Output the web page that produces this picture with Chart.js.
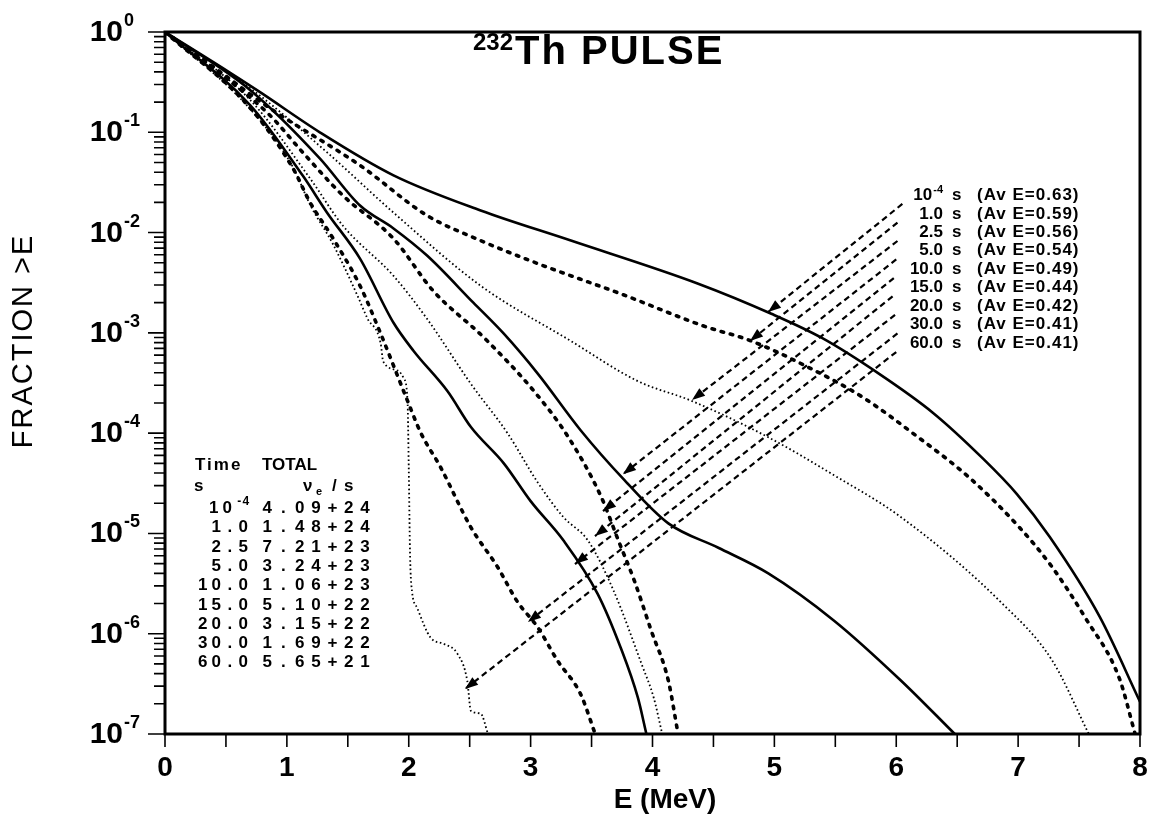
<!DOCTYPE html>
<html lang="en">
<head>
<meta charset="UTF-8">
<title>232Th pulse - fraction of antineutrinos above E</title>
<script src="https://cdn.jsdelivr.net/npm/chart.js"></script>
<style>
  html, body { margin: 0; padding: 0; background: #fff; }
  canvas { display: block; }
</style>
</head>
<body>
<canvas id="chart" width="1157" height="822"></canvas>
<script>
// fraction of the spectrum above E, one curve per cooling time
const e_1e4 = [0, 0.5, 0.78, 1.27, 1.875, 2.59, 3.33, 4.375, 4.975, 5.39, 5.86, 6.30, 6.71, 6.99, 7.26, 7.67, 8.0];
const f_1e4 = [1, 0.417, 0.251, 0.1, 0.0372, 0.0166, 0.00832, 0.00309, 0.00155, 8.9e-4, 3.9e-4, 1.6e-4, 5.6e-5, 2.47e-5, 9.2e-6, 1.47e-6, 2.1e-7];

const e_1 = [0, 0.41, 0.86, 1.60, 2.15, 2.59, 3.06, 3.74, 4.42, 4.81, 5.30, 5.72, 6.18, 6.60, 7.01, 7.28, 7.55, 7.83, 7.96];
const f_1 = [1, 0.437, 0.174, 0.0468, 0.0148, 0.00832, 0.0049, 0.00245, 0.00117, 8.3e-4, 4.4e-4, 2.3e-4, 9.1e-5, 3.6e-5, 1.15e-5, 4.6e-6, 1.45e-6, 3.6e-7, 1.0e-7];

const e_2_5 = [0, 0.70, 1.33, 1.875, 2.59, 3.33, 3.88, 4.32, 4.95, 5.49, 6.04, 6.87, 7.28, 7.58];
const f_2_5 = [1, 0.275, 0.063, 0.0158, 0.00295, 8.3e-4, 3.3e-4, 2.1e-4, 9.1e-5, 3.8e-5, 1.45e-5, 2.0e-6, 5.4e-7, 1.0e-7];

const e_5 = [0, 0.70, 1.27, 1.60, 1.875, 2.15, 2.53, 2.78, 3.06, 3.41, 3.77, 4.13, 4.54, 4.95, 5.49, 6.04, 6.48];
const f_5 = [1, 0.263, 0.055, 0.0186, 0.011, 0.0059, 0.002, 9.8e-4, 3.9e-4, 1.07e-4, 3.4e-5, 1.26e-5, 7.2e-6, 4.0e-6, 1.35e-6, 3.4e-7, 1.0e-7];

const e_10 = [0, 0.5, 0.86, 1.13, 1.46, 1.875, 2.20, 2.62, 3.03, 3.31, 3.58, 3.72, 3.85, 3.99, 4.13, 4.21];
const f_10 = [1, 0.347, 0.148, 0.063, 0.0234, 0.0087, 0.00263, 8.9e-4, 2.6e-4, 9.1e-5, 2.3e-5, 8.5e-6, 3.4e-6, 1.07e-6, 3.4e-7, 1.0e-7];

const e_15 = [0, 0.70, 1.19, 1.46, 1.875, 2.15, 2.51, 2.81, 3.06, 3.27, 3.47, 3.68, 3.91, 4.01, 4.08];
const f_15 = [1, 0.209, 0.0347, 0.0117, 0.0037, 0.00138, 3.1e-4, 1.0e-4, 3.2e-5, 1.45e-5, 8.5e-6, 2.7e-6, 5.0e-7, 2.3e-7, 1.0e-7];

const e_20 = [0, 0.70, 1.13, 1.33, 1.60, 1.875, 2.04, 2.32, 2.51, 2.78, 3.00, 3.27, 3.55, 3.74, 3.88, 3.95];
const f_20 = [1, 0.186, 0.037, 0.0158, 0.0055, 0.00126, 6.6e-4, 2.6e-4, 1.15e-4, 5.0e-5, 2.1e-5, 8.5e-6, 2.5e-6, 7.2e-7, 2.3e-7, 1.0e-7];

const e_30 = [0, 0.70, 1.05, 1.19, 1.38, 1.60, 1.77, 1.99, 2.10, 2.26, 2.51, 2.73, 2.89, 3.06, 3.22, 3.41, 3.53];
const f_30 = [1, 0.174, 0.0437, 0.02, 0.0087, 0.00295, 9.8e-4, 2.1e-4, 1.0e-4, 4.6e-5, 1.15e-5, 4.6e-6, 2.1e-6, 1.15e-6, 5.4e-7, 2.5e-7, 1.0e-7];

const e_60 = [0, 0.70, 1.05, 1.19, 1.38, 1.58, 1.66, 1.77, 1.79, 1.91, 1.96, 1.99, 2.00, 2.01, 2.02, 2.07, 2.18, 2.29, 2.40, 2.48, 2.51, 2.59, 2.65];
const f_60 = [1, 0.17, 0.045, 0.019, 0.0076, 0.00234, 0.0014, 7.8e-4, 5.2e-4, 4.2e-4, 3.5e-4, 2.1e-4, 4.6e-5, 6.8e-6, 3.2e-6, 1.8e-6, 9.1e-7, 7.9e-7, 6.3e-7, 3.4e-7, 1.7e-7, 1.6e-7, 1.0e-7];

const curveE = [e_1e4, e_1, e_2_5, e_5, e_10, e_15, e_20, e_30, e_60];
const curveF = [f_1e4, f_1, f_2_5, f_5, f_10, f_15, f_20, f_30, f_60];

// labels
const timeLabels = ['10^-4', '1.0', '2.5', '5.0', '10.0', '15.0', '20.0', '30.0', '60.0'];
const avgEnergy = ['0.63', '0.59', '0.56', '0.54', '0.49', '0.44', '0.42', '0.41', '0.41'];
const totalRate = ['4.09+24', '1.48+24', '7.21+23', '3.24+23', '1.06+23', '5.10+22', '3.15+22', '1.69+22', '5.65+21'];

// pointer arrows: tail next to the label, head on the curve (E, fraction)
const arrowTailE = [6.05, 6.01, 6.01, 6.0, 5.98, 5.97, 5.99, 6.01, 6.0];
const arrowTailF = [0.01928, 0.01259, 0.00824, 0.00539, 0.00352, 0.00231, 0.00151, 9.86e-4, 6.44e-4];
const arrowHeadE = [4.948, 4.80, 4.324, 3.758, 3.594, 3.528, 3.364, 2.978, 2.462];
const arrowHeadF = [1.61e-3, 8.3e-4, 2.14e-4, 3.9e-5, 1.67e-5, 9.4e-6, 4.95e-6, 1.31e-6, 2.81e-7];

const xTicks = [0, 1, 2, 3, 4, 5, 6, 7, 8];
const xTickLabels = ['0', '1', '2', '3', '4', '5', '6', '7', '8'];
const yTicks = [1, 1e-1, 1e-2, 1e-3, 1e-4, 1e-5, 1e-6, 1e-7];
const yTickExps = ['0', '-1', '-2', '-3', '-4', '-5', '-6', '-7'];

const FONT = "'Liberation Sans', Arial, sans-serif";

// solid, heavy dots, fine dots - repeating
const lineStyles = [
  { borderWidth: 2.6, borderDash: [] },
  { borderWidth: 3.6, borderDash: [2.5, 7], borderCapStyle: 'round' },
  { borderWidth: 1.8, borderDash: [1.6, 2.6] }
];

const curveSets = curveE.map((es, i) => ({
  data: es.map((v, k) => ({ x: v, y: curveF[i][k] })),
  borderColor: '#000',
  pointRadius: 0,
  showLine: true,
  fill: false,
  cubicInterpolationMode: 'monotone',
  ...lineStyles[i % 3]
}));

const arrowSets = arrowTailE.map((te, i) => ({
  data: [{ x: te, y: arrowTailF[i] }, { x: arrowHeadE[i], y: arrowHeadF[i] }],
  borderColor: '#000',
  borderWidth: 2.2,
  borderDash: [6, 4],
  pointRadius: 0,
  showLine: true,
  fill: false,
  isArrow: true
}));

function sup(ctx, base, exp, x, y, baseFont, expFont, rise) {
  ctx.font = baseFont;
  ctx.fillText(base, x, y);
  const w = ctx.measureText(base).width;
  ctx.font = expFont;
  ctx.fillText(exp, x + w + 1, y - rise);
  return x + w + 1 + ctx.measureText(exp).width;
}

function pitched(ctx, text, x, y, pitch, align) {
  const chars = [...text];
  const start = align === 'right' ? x - chars.length * pitch : x;
  ctx.textAlign = 'center';
  chars.forEach((c, k) => ctx.fillText(c, start + pitch * (k + 0.5), y));
  ctx.textAlign = 'left';
}

function spacing(ctx, px) {
  if ('letterSpacing' in ctx) ctx.letterSpacing = px + 'px';
}

const decor = {
  id: 'decor',
  afterDatasetsDraw(chart) {
    const ctx = chart.ctx;
    ctx.save();
    ctx.fillStyle = '#000';
    chart.data.datasets.forEach((ds, i) => {
      if (!ds.isArrow) return;
      const [a, b] = chart.getDatasetMeta(i).data;
      const ang = Math.atan2(b.y - a.y, b.x - a.x);
      const L = 13, W = 4.8;
      const bx = b.x - L * Math.cos(ang), by = b.y - L * Math.sin(ang);
      ctx.beginPath();
      ctx.moveTo(b.x, b.y);
      ctx.lineTo(bx + W * Math.sin(ang), by - W * Math.cos(ang));
      ctx.lineTo(bx - W * Math.sin(ang), by + W * Math.cos(ang));
      ctx.closePath();
      ctx.fill();
    });
    ctx.restore();
  },
  afterDraw(chart) {
    const { ctx, chartArea: a, scales: { x, y } } = chart;
    ctx.save();
    ctx.strokeStyle = '#000';
    ctx.fillStyle = '#000';
    ctx.setLineDash([]);

    // frame
    ctx.lineWidth = 3;
    ctx.strokeRect(a.left, a.top, a.right - a.left, a.bottom - a.top);

    // y ticks (outside, left), decades longer
    ctx.lineWidth = 1.6;
    ctx.beginPath();
    yTicks.forEach(v => {
      const py = y.getPixelForValue(v);
      ctx.moveTo(a.left - 17, py); ctx.lineTo(a.left, py);
    });
    for (let d = 1e-7; d < 0.5; d *= 10) {
      for (let m = 2; m <= 9; m++) {
        const py = y.getPixelForValue(m * d);
        ctx.moveTo(a.left - 11, py); ctx.lineTo(a.left, py);
      }
    }
    // x ticks (outside, below) every 0.5 MeV
    for (let v = 0; v <= 8; v += 0.5) {
      const px = x.getPixelForValue(v);
      ctx.moveTo(px, a.bottom); ctx.lineTo(px, a.bottom + 13);
    }
    ctx.stroke();

    // y tick labels
    ctx.textBaseline = 'alphabetic';
    ctx.textAlign = 'left';
    yTicks.forEach((v, i) => {
      const py = y.getPixelForValue(v);
      ctx.font = 'bold 30px ' + FONT;
      const w = ctx.measureText('10').width;
      sup(ctx, '10', yTickExps[i], 123 - w, py + 9, 'bold 30px ' + FONT, 'bold 18px ' + FONT, 15);
    });

    // x tick labels
    ctx.font = 'bold 28px ' + FONT;
    ctx.textAlign = 'center';
    xTicks.forEach((v, i) => ctx.fillText(xTickLabels[i], x.getPixelForValue(v), a.bottom + 42));

    // axis titles
    ctx.font = 'bold 28px ' + FONT;
    ctx.fillText('E (MeV)', 665, 808);
    ctx.save();
    ctx.translate(24, 341);
    ctx.rotate(-Math.PI / 2);
    ctx.font = '29px ' + FONT;
    ctx.textBaseline = 'middle';
    spacing(ctx, 2);
    ctx.fillText('FRACTION >E', 0, 0);
    ctx.restore();

    // title
    ctx.textAlign = 'left';
    ctx.font = 'bold 24px ' + FONT;
    ctx.fillText('232', 473, 50);
    const w232 = ctx.measureText('232').width;
    ctx.font = 'bold 40px ' + FONT;
    spacing(ctx, 2);
    ctx.fillText('Th PULSE', 473 + w232 + 2, 64);
    spacing(ctx, 0);

    // labels at the arrow tails
    arrowTailE.forEach((te, i) => {
      const py = y.getPixelForValue(arrowTailF[i]) - 4;
      ctx.textAlign = 'left';
      const bf = 'bold 17px ' + FONT;
      if (timeLabels[i].includes('^')) {
        const [b, e] = timeLabels[i].split('^');
        ctx.font = bf;
        const wb = ctx.measureText(b).width;
        ctx.font = 'bold 11px ' + FONT;
        const we = ctx.measureText(e).width;
        sup(ctx, b, e, 943 - wb - we - 1, py, bf, 'bold 11px ' + FONT, 7);
      } else {
        ctx.font = bf;
        ctx.textAlign = 'right';
        ctx.fillText(timeLabels[i], 943, py);
        ctx.textAlign = 'left';
      }
      ctx.font = bf;
      ctx.fillText('s', 952, py);
      spacing(ctx, 1);
      ctx.fillText('(Av E=' + avgEnergy[i] + ')', 977, py);
      spacing(ctx, 0);
    });

    // totals table
    ctx.font = 'bold 17px ' + FONT;
    ctx.textAlign = 'left';
    spacing(ctx, 2);
    ctx.fillText('Time', 195, 470);
    spacing(ctx, 0);
    ctx.fillText('TOTAL', 262, 470);
    ctx.fillText('s', 194, 491);
    ctx.fillText('\u03bd', 303, 491);
    ctx.font = 'bold 11px ' + FONT;
    ctx.fillText('e', 316, 495);
    ctx.font = 'bold 17px ' + FONT;
    ctx.fillText('/', 332, 491);
    ctx.fillText('s', 344, 491);
    timeLabels.forEach((t, i) => {
      const by = 513 + 19.3 * i;
      ctx.font = 'bold 17px ' + FONT;
      if (t.includes('^')) {
        const [b, e] = t.split('^');
        pitched(ctx, b, 234, by, 13.5, 'right');
        ctx.font = 'bold 12px ' + FONT;
        pitched(ctx, e, 236, by - 8, 6.5, 'left');
        ctx.font = 'bold 17px ' + FONT;
      } else {
        pitched(ctx, t, 250, by, 13.5, 'right');
      }
      pitched(ctx, totalRate[i], 259, by, 16.3, 'left');
    });

    ctx.restore();
  }
};

new Chart(document.getElementById('chart'), {
  type: 'scatter',
  data: { datasets: [...curveSets, ...arrowSets] },
  options: {
    responsive: false,
    animation: false,
    events: [],
    layout: { autoPadding: false, padding: { left: 0, top: 32, right: 17, bottom: 0 } },
    plugins: { legend: { display: false }, tooltip: { enabled: false } },
    scales: {
      x: {
        type: 'linear', min: 0, max: 8,
        ticks: { display: false },
        grid: { display: false },
        border: { display: false },
        afterFit: s => { s.height = 88; }
      },
      y: {
        type: 'logarithmic', min: 1e-7, max: 1,
        ticks: { display: false },
        grid: { display: false },
        border: { display: false },
        afterFit: s => { s.width = 165; }
      }
    }
  },
  plugins: [decor]
});
</script>
</body>
</html>
